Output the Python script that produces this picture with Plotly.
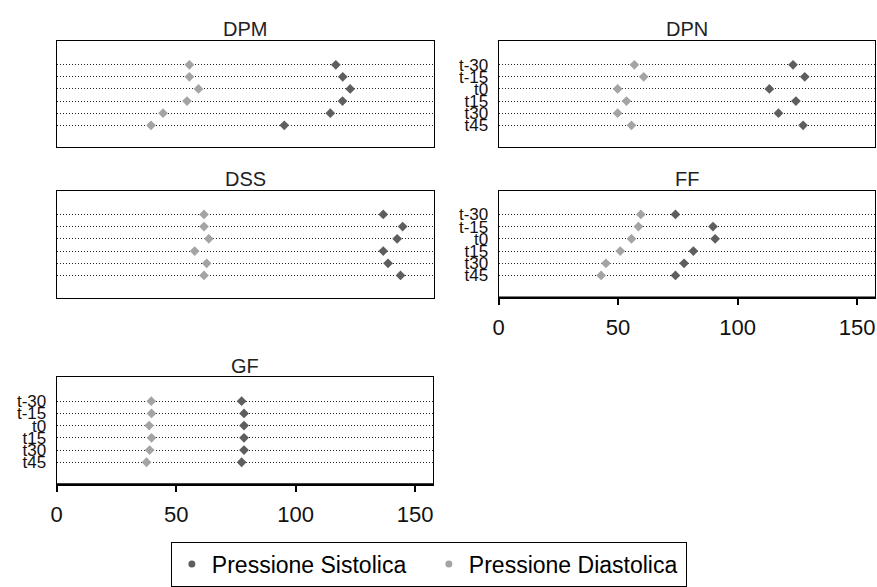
import plotly.graph_objects as go

W, H = 877, 587

times = ["t-30", "t-15", "t0", "t15", "t30", "t45"]
subjects = ["DPM", "DPN", "DSS", "FF", "GF"]
x_ticks = [0, 50, 100, 150]

sis_DPM = [116.5, 119.4, 122.5, 119.3, 114.2, 95.0]
dia_DPM = [55.4, 55.4, 59.2, 54.4, 44.4, 39.4]
sis_DPN = [123.2, 128.1, 113.3, 124.4, 117.1, 127.4]
dia_DPN = [56.8, 60.7, 49.8, 53.5, 49.8, 55.6]
sis_DSS = [136.3, 144.4, 142.1, 136.3, 138.3, 143.5]
dia_DSS = [61.5, 61.5, 63.5, 57.6, 62.6, 61.5]
sis_FF = [74.0, 89.7, 90.6, 81.5, 77.6, 74.0]
dia_FF = [59.5, 58.5, 55.6, 50.9, 44.9, 42.9]
sis_GF = [77.4, 78.4, 78.4, 78.4, 78.4, 77.4]
dia_GF = [39.6, 39.7, 38.7, 39.7, 38.9, 37.6]

sistolica = [sis_DPM, sis_DPN, sis_DSS, sis_FF, sis_GF]
diastolica = [dia_DPM, dia_DPN, dia_DSS, dia_FF, dia_GF]

SIS_COLOR = "#5e5e5e"
DIA_COLOR = "#a4a4a4"
FONT = "Liberation Sans, Arial, sans-serif"

# panel boxes in pixels: left, right, top, bottom
boxes = [(51, 431, 42, 150), (496, 875, 42, 150), (51, 431, 194, 303),
         (496, 875, 194, 303), (51, 430, 384, 493)]
show_y = [False, True, False, True, True]
show_x = [False, False, False, True, True]

fig = go.Figure()
annotations = []
shapes = []
for i, name in enumerate(subjects):
    n = "" if i == 0 else str(i + 1)
    l, r, t, b = boxes[i]
    fig.add_trace(go.Scatter(x=diastolica[i], y=times, mode="markers",
                             marker=dict(symbol="diamond", size=7.5, color=DIA_COLOR),
                             xaxis="x" + n, yaxis="y" + n, showlegend=False))
    fig.add_trace(go.Scatter(x=sistolica[i], y=times, mode="markers",
                             marker=dict(symbol="diamond", size=7.5, color=SIS_COLOR),
                             xaxis="x" + n, yaxis="y" + n, showlegend=False))
    fig.layout["xaxis" + n] = dict(
        domain=[l / W, r / W], anchor="y" + n, range=[0, 157.5],
        showgrid=False, zeroline=False, showline=True, mirror=True,
        linecolor="black", linewidth=1,
        tickmode="array", tickvals=x_ticks, ticks="outside" if show_x[i] else "",
        ticklen=6, tickwidth=1.5, tickcolor="black",
        showticklabels=show_x[i], ticklabelstandoff=4,
        tickfont=dict(family=FONT, size=22, color="#111"),
    )
    fig.layout["yaxis" + n] = dict(
        domain=[1 - b / H, 1 - t / H], anchor="x" + n,
        type="category", categoryorder="array", categoryarray=times,
        tickmode="array", tickvals=times, ticktext=times,
        range=[5 + 1.83, -1.94],
        showgrid=True, gridcolor="#222", griddash="1px,2px", gridwidth=1,
        zeroline=False, showline=True, mirror=True,
        linecolor="black", linewidth=1, ticks="",
        showticklabels=show_y[i], ticklabelstandoff=6,
        tickfont=dict(family=FONT, size=17, color="#111"),
    )
    annotations.append(dict(text=name, x=(l + r) / 2 / W, y=1 - (t - 12) / H,
                            xref="paper", yref="paper", showarrow=False,
                            xanchor="center", yanchor="middle",
                            font=dict(family=FONT, size=20, color="#222")))
    if show_x[i]:
        shapes.append(dict(type="line", xref="x" + n + " domain", yref="y" + n + " domain",
                           x0=0, x1=1, y0=0, y1=0, line=dict(color="black", width=2.5)))

fig.add_trace(go.Scatter(x=[None], y=[None], mode="markers", name="Pressione Sistolica",
                         marker=dict(symbol="circle", size=7, color=SIS_COLOR)))
fig.add_trace(go.Scatter(x=[None], y=[None], mode="markers", name="Pressione Diastolica",
                         marker=dict(symbol="circle", size=7, color=DIA_COLOR)))

fig.update_layout(
    width=W, height=H, margin=dict(l=0, r=0, t=0, b=0),
    paper_bgcolor="white", plot_bgcolor="white",
    annotations=annotations, shapes=shapes,
    legend=dict(orientation="h", x=166 / W, xanchor="left", y=1 - 551 / H, yanchor="top",
                bordercolor="black", borderwidth=1, bgcolor="white",
                entrywidth=212, entrywidthmode="pixels", itemwidth=30,
                font=dict(family=FONT, size=23, color="black")),
)

fig.write_html("out.html")
